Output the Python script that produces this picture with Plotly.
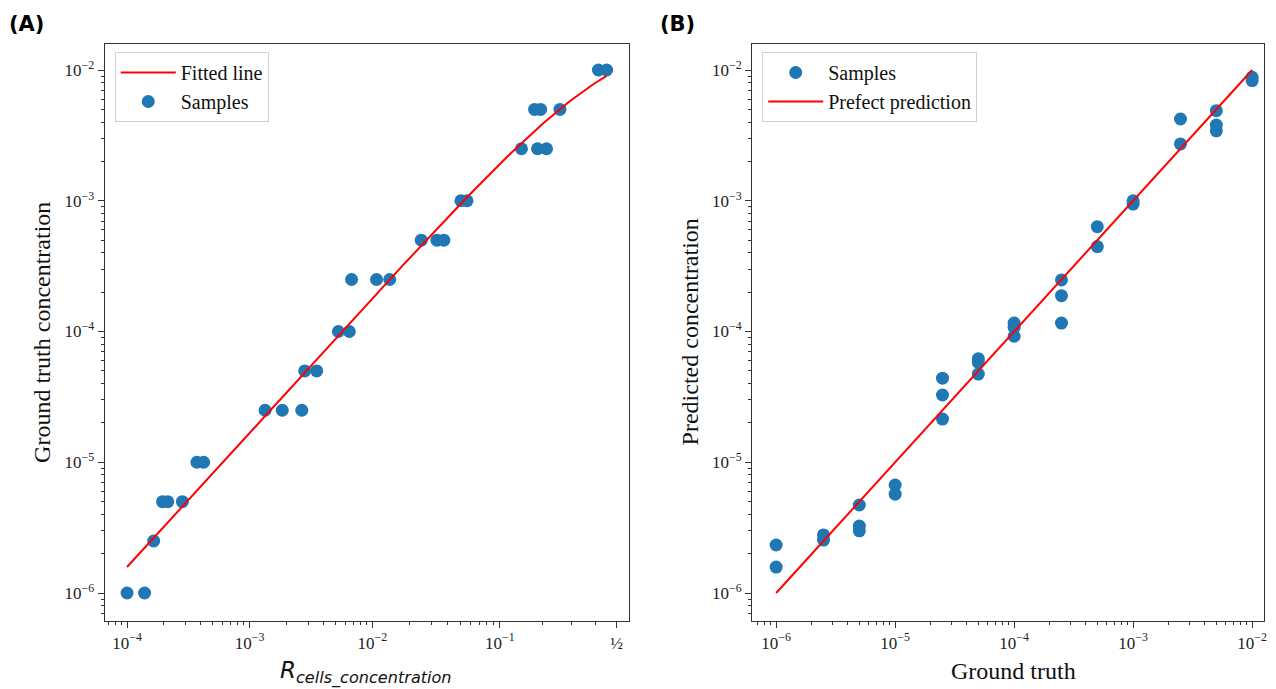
import numpy as np
import plotly.graph_objects as go

# ---------------- Panel A data ----------------
a_ratio = [1.0e-4, 1.39e-4, 1.65e-4, 1.95e-4, 2.15e-4, 2.83e-4, 3.72e-4, 4.22e-4,
           1.34e-3, 1.85e-3, 2.67e-3, 2.82e-3, 3.53e-3, 5.3e-3, 6.5e-3,
           6.78e-3, 0.0108, 0.0138, 0.0247, 0.0329, 0.0373, 0.0507, 0.0565,
           0.143, 0.184, 0.211, 0.176, 0.193, 0.256, 0.415, 0.453]
a_truth = [1e-6, 1e-6, 2.5e-6, 5e-6, 5e-6, 5e-6, 1e-5, 1e-5,
           2.5e-5, 2.5e-5, 2.5e-5, 5e-5, 5e-5, 1e-4, 1e-4,
           2.5e-4, 2.5e-4, 2.5e-4, 5e-4, 5e-4, 5e-4, 1e-3, 1e-3,
           2.5e-3, 2.5e-3, 2.5e-3, 5e-3, 5e-3, 5e-3, 1e-2, 1e-2]
a_xticks = [1e-4, 1e-3, 1e-2, 1e-1, 0.5]
a_xticktext = ["10<sup>\u22124</sup>", "10<sup>\u22123</sup>", "10<sup>\u22122</sup>",
               "10<sup>\u22121</sup>", "\u00bd"]

# ---------------- Panel B data ----------------
b_truth = [1e-6, 1e-6, 2.5e-6, 2.5e-6, 5e-6, 5e-6, 5e-6, 1e-5, 1e-5,
           2.5e-5, 2.5e-5, 2.5e-5, 5e-5, 5e-5, 5e-5, 1e-4, 1e-4, 1e-4,
           2.5e-4, 2.5e-4, 2.5e-4, 5e-4, 5e-4, 1e-3, 1e-3,
           2.5e-3, 2.5e-3, 5e-3, 5e-3, 5e-3, 1e-2, 1e-2]
b_pred = [2.33e-6, 1.58e-6, 2.78e-6, 2.54e-6, 4.71e-6, 3.25e-6, 2.99e-6, 6.7e-6, 5.7e-6,
          4.4e-5, 3.27e-5, 2.14e-5, 6.2e-5, 5.8e-5, 4.73e-5, 1.16e-4, 1.08e-4, 9.2e-5,
          2.48e-4, 1.88e-4, 1.16e-4, 6.34e-4, 4.46e-4, 1.0e-3, 9.44e-4,
          4.22e-3, 2.72e-3, 4.89e-3, 3.79e-3, 3.43e-3, 8.8e-3, 8.3e-3]
log_ticks = [1e-6, 1e-5, 1e-4, 1e-3, 1e-2]
log_ticktext = ["10<sup>\u22126</sup>", "10<sup>\u22125</sup>", "10<sup>\u22124</sup>",
                "10<sup>\u22123</sup>", "10<sup>\u22122</sup>"]


def logit10(p):
    p = np.asarray(p, dtype=float)
    return np.log10(p / (1 - p))


# fitted power law in log-log space
coef = np.polyfit(np.log10(a_ratio), np.log10(a_truth), 1)
fit_x = np.logspace(np.log10(min(a_ratio)), np.log10(max(a_ratio)), 200)
fit_y = 10 ** np.polyval(coef, np.log10(fit_x))

# minor ticks
minor_log = [k * 10.0 ** e for e in range(-8, 0) for k in range(2, 10)]
minor_logit = [k * 10.0 ** e for e in range(-6, -1) for k in range(2, 10)] + [0.2, 0.3, 0.4]

BLUE = "#1f77b4"
SERIF = "Liberation Serif"

# page body has an 8px margin: figure is sized to fit inside the window
OFF = 8
W, H = 1276 - OFF, 689 - OFF


def fx(px):
    return (px - OFF) / W


def fy(py):
    return 1 - (py - OFF) / H


fig = go.Figure()

# Panel A
fig.add_trace(go.Scatter(x=logit10(a_ratio), y=a_truth, mode="markers", name="Samples",
                         marker=dict(color=BLUE, size=13), xaxis="x", yaxis="y",
                         legend="legend", legendrank=2))
fig.add_trace(go.Scatter(x=logit10(fit_x), y=fit_y, mode="lines", name="Fitted line",
                         line=dict(color="red", width=2), xaxis="x", yaxis="y",
                         legend="legend", legendrank=1))

# Panel B
fig.add_trace(go.Scatter(x=b_truth, y=b_pred, mode="markers", name="Samples",
                         marker=dict(color=BLUE, size=13), xaxis="x2", yaxis="y2",
                         legend="legend2"))
fig.add_trace(go.Scatter(x=[min(b_truth), max(b_truth)], y=[min(b_truth), max(b_truth)],
                         mode="lines", name="Prefect prediction",
                         line=dict(color="red", width=2), xaxis="x2", yaxis="y2",
                         legend="legend2"))

axis_common = dict(showline=True, mirror=True, linecolor="#333", linewidth=1.3,
                   ticks="outside", ticklen=6, tickwidth=1.2, tickcolor="#333",
                   showgrid=False, zeroline=False,
                   tickfont=dict(family=SERIF, size=17, color="#222"))
minor_common = dict(ticks="outside", ticklen=3, tickwidth=1, tickcolor="#333",
                    showgrid=False, tickmode="array")

yA = [fy(621), fy(44)]
leg_common = dict(xanchor="left", yanchor="top",
                  bgcolor="rgba(255,255,255,0.8)", bordercolor="#d0d0d0", borderwidth=1,
                  font=dict(family=SERIF, size=20, color="#111"), traceorder="normal",
                  itemwidth=55)

fig.update_layout(
    width=W, height=H, margin=dict(l=0, r=0, t=0, b=0),
    plot_bgcolor="white", paper_bgcolor="white",
    xaxis=dict(axis_common, domain=[fx(105), fx(630)], range=[-4.182, 0.097],
               tickmode="array", tickvals=list(logit10(a_xticks)), ticktext=a_xticktext,
               minor=dict(minor_common, tickvals=list(logit10(minor_logit))),
               anchor="y"),
    yaxis=dict(axis_common, domain=yA, type="log", range=[-6.214, -1.801],
               tickmode="array", tickvals=log_ticks, ticktext=log_ticktext,
               minor=dict(minor_common, tickvals=minor_log), anchor="x"),
    xaxis2=dict(axis_common, domain=[fx(754), fx(1267)], type="log", range=[-6.201, -1.9],
                tickmode="array", tickvals=log_ticks, ticktext=log_ticktext,
                minor=dict(minor_common, tickvals=minor_log), anchor="y2"),
    yaxis2=dict(axis_common, domain=yA, type="log", range=[-6.214, -1.801],
                tickmode="array", tickvals=log_ticks, ticktext=log_ticktext,
                minor=dict(minor_common, tickvals=minor_log), anchor="x2"),
    legend=dict(leg_common, x=fx(115), y=fy(52)),
    legend2=dict(leg_common, x=fx(764), y=fy(52)),
    showlegend=True,
)

ann = [
    dict(text="<b>(A)</b>", x=fx(7), y=fy(24), xanchor="left", yanchor="middle",
         font=dict(family="DejaVu Sans", size=21, color="black")),
    dict(text="<b>(B)</b>", x=fx(660), y=fy(24), xanchor="left", yanchor="middle",
         font=dict(family="DejaVu Sans", size=21, color="black")),
    dict(text="Ground truth concentration", x=fx(42), y=fy(332), textangle=-90,
         xanchor="center", yanchor="middle", font=dict(family=SERIF, size=24, color="#111")),
    dict(text="Predicted concentration", x=fx(692), y=fy(332), textangle=-90,
         xanchor="center", yanchor="middle", font=dict(family=SERIF, size=24, color="#111")),
    dict(text="<i>R</i><sub><i>cells_concentration</i></sub>", x=fx(367), y=fy(672),
         xanchor="center", yanchor="middle", font=dict(family="DejaVu Sans", size=23, color="#111")),
    dict(text="Ground truth", x=fx(1016), y=fy(671),
         xanchor="center", yanchor="middle", font=dict(family=SERIF, size=24, color="#111")),
]
for a in ann:
    a.update(xref="paper", yref="paper", showarrow=False)
fig.update_layout(annotations=ann)

fig.write_html("out.html")
